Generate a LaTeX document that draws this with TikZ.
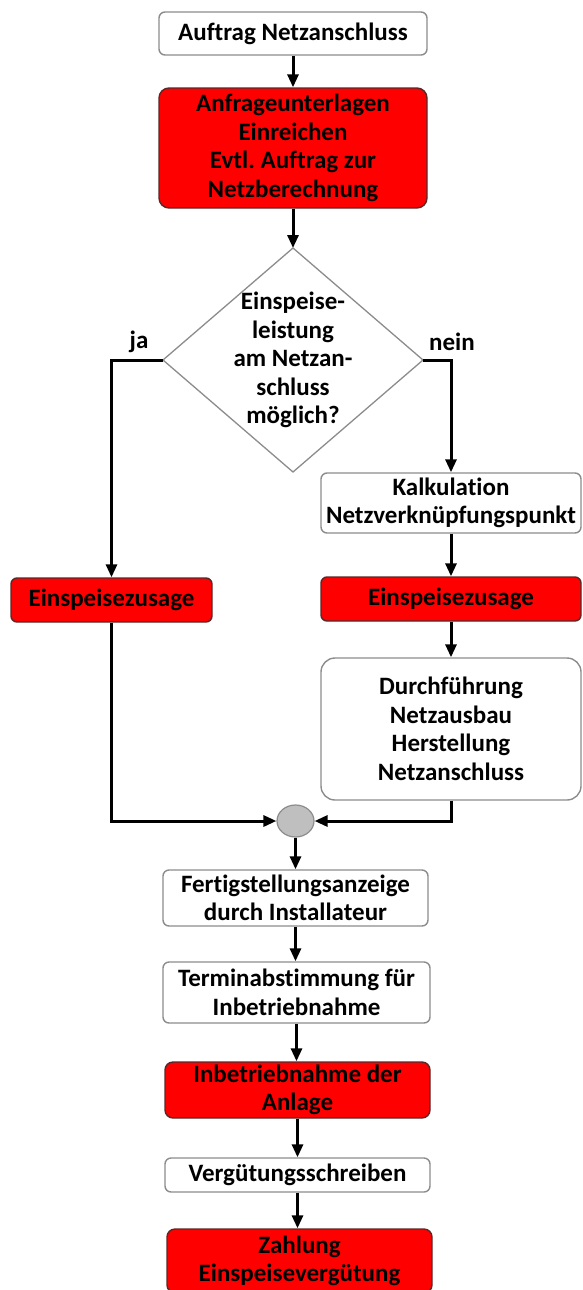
\documentclass[tikz,border=0pt]{standalone}
\usepackage{fontspec}
\setmainfont{Carlito}[RawFeature=-liga]
\usetikzlibrary{arrows.meta,shapes.geometric}
\definecolor{boxred}{RGB}{255,0,0}
\definecolor{edgegray}{RGB}{140,140,140}
\definecolor{rededge}{RGB}{90,40,40}
\tikzset{
  base/.style={align=center, inner sep=0pt, font=\fontsize{25}{28.5}\selectfont\bfseries, text=black},
  wbox/.style={base, draw=edgegray, line width=1.4pt, fill=white, rounded corners=6pt},
  rbox/.style={base, draw=rededge, line width=1.4pt, fill=boxred, rounded corners=8pt},
  flow/.style={line width=3pt, -{Triangle[length=13pt,width=11pt]}},
  lbl/.style={base}
}
\frenchspacing
\begin{document}
\begin{tikzpicture}[x=1pt,y=-1pt]
\useasboundingbox (0,0) rectangle (582,1290);
\clip (0,0) rectangle (582,1290);
% main column top
\node[wbox, minimum width=268pt, minimum height=43pt] (a1) at (293,33.5) {Auftrag Netzanschluss};
\node[rbox, minimum width=268pt, minimum height=120pt, rounded corners=10pt] (a2) at (293,148) {Anfrageunterlagen\\Einreichen\\Evtl. Auftrag zur\\Netzberechnung};
% decision diamond
\coordinate (dt) at (293,248);
\coordinate (dl) at (163,360);
\coordinate (dr) at (423,360);
\coordinate (db) at (293,472);
\draw[edgegray, line width=1.3pt, fill=white] (dt) -- (dr) -- (db) -- (dl) -- cycle;
\node[base] (dq) at (293,360) {Einspeise-\\leistung\\am Netzan-\\schluss\\möglich?};
\node[lbl] (ja) at (139,342) {ja};
\node[lbl] (nein) at (452,342) {nein};
% left branch
\node[rbox, minimum width=201pt, minimum height=44pt, rounded corners=6pt] (L) at (111.5,600) {Einspeisezusage};
% right branch
\node[wbox, minimum width=260pt, minimum height=60pt] (k) at (451,503) {Kalkulation\\Netzverknüpfungspunkt};
\node[rbox, minimum width=260pt, minimum height=44pt, rounded corners=6pt] (R) at (451,599) {Einspeisezusage};
\node[wbox, minimum width=260pt, minimum height=142pt, rounded corners=14pt] (dur) at (451,729) {Durchführung\\Netzausbau\\Herstellung\\Netzanschluss};
% merge
\node[draw=edgegray, line width=1.2pt, fill=black!25, ellipse, minimum width=37pt, minimum height=32pt, inner sep=0pt] (m) at (295.5,821) {};
% lower column
\node[wbox, minimum width=265pt, minimum height=56pt] (f) at (295.5,898) {Fertigstellungsanzeige\\durch Installateur};
\node[wbox, minimum width=267pt, minimum height=61pt] (t) at (296.5,992.5) {Terminabstimmung für\\Inbetriebnahme};
\node[rbox, minimum width=265pt, minimum height=56pt] (i) at (297.5,1090) {Inbetriebnahme der\\Anlage};
\node[wbox, minimum width=265pt, minimum height=34pt] (v) at (297.5,1175) {Vergütungsschreiben};
\node[rbox, minimum width=265pt, minimum height=64pt] (z) at (299.5,1261) {Zahlung\\Einspeisevergütung};
% connectors
\draw[flow] (a1.south) -- (a1.south|-a2.north);
\draw[flow] (a2.south) -- (a2.south|-dt);
\draw[flow] (dl) -| (L.north);
\draw[flow] (dr) -| (k.north);
\draw[flow] (k.south) -- (R.north);
\draw[flow] (R.south) -- (dur.north);
\draw[flow] (L.south) |- (m.west);
\draw[flow] (dur.south) |- (m.east);
\draw[flow] (m.south) -- (m.south|-f.north);
\draw[flow] (f.south) -- (f.south|-t.north);
\draw[flow] (t.south) -- (t.south|-i.north);
\draw[flow] (i.south) -- (i.south|-v.north);
\draw[flow] (v.south) -- (v.south|-z.north);
\end{tikzpicture}
\end{document}
